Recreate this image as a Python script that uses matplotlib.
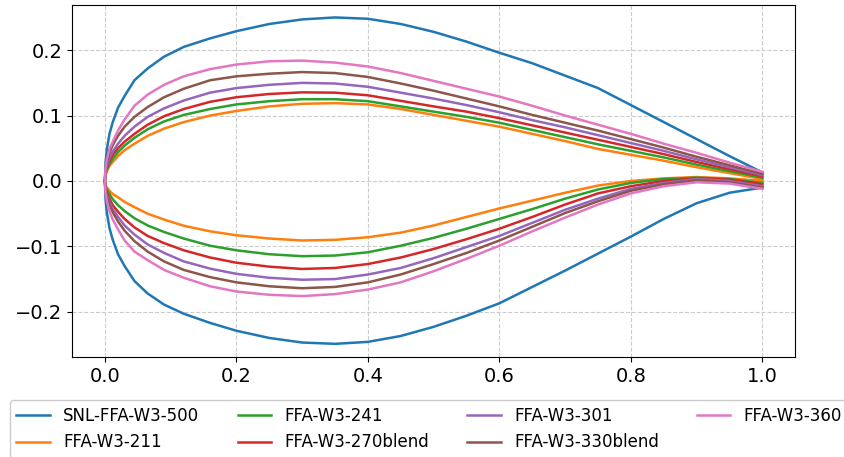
import matplotlib
matplotlib.use('Agg')
import matplotlib.pyplot as plt

# chordwise stations shared by all profiles
x_c = [0, 0.001, 0.003, 0.007, 0.012, 0.02, 0.03, 0.045, 0.065, 0.09,
       0.12, 0.16, 0.2, 0.25, 0.3, 0.35, 0.4, 0.45, 0.5, 0.55,
       0.6, 0.65, 0.7, 0.75, 0.8, 0.85, 0.9, 0.95, 1.0]

names = ['SNL-FFA-W3-500', 'FFA-W3-211', 'FFA-W3-241', 'FFA-W3-270blend',
         'FFA-W3-301', 'FFA-W3-330blend', 'FFA-W3-360']

upper_500 = [0, .028, .048, .072, .090, .112, .130, .154, .172, .190,
             .205, .218, .229, .240, .247, .250, .248, .240, .228, .213,
             .196, .180, .161, .142, .116, .090, .064, .038, .013]
lower_500 = [0, -.028, -.048, -.072, -.090, -.112, -.130, -.153, -.172, -.189,
             -.203, -.217, -.229, -.240, -.247, -.249, -.246, -.237, -.223, -.206,
             -.187, -.162, -.137, -.111, -.085, -.058, -.034, -.018, -.010]

upper_211 = [0, .009, .015, .023, .029, .038, .047, .057, .069, .080,
             .090, .100, .107, .114, .118, .119, .117, .110, .101, .092,
             .083, .072, .061, .049, .040, .031, .021, .012, .003]
lower_211 = [0, -.006, -.010, -.015, -.020, -.025, -.032, -.040, -.050, -.059,
             -.0685, -.077, -.083, -.088, -.091, -.090, -.086, -.079, -.068, -.055,
             -.042, -.030, -.018, -.007, .000, .004, .006, .004, .000]

upper_241 = [0, .010, .017, .026, .034, .044, .054, .066, .079, .091,
             .101, .110, .117, .122, .125, .125, .122, .114, .106, .098,
             .089, .078, .067, .056, .046, .036, .025, .015, .005]
lower_241 = [0, -.008, -.013, -.020, -.028, -.037, -.046, -.057, -.068, -.078,
             -.088, -.099, -.106, -.112, -.115, -.114, -.109, -.099, -.087, -.073,
             -.058, -.043, -.027, -.013, -.003, .003, .005, .003, -.003]

upper_270 = [0, .012, .020, .031, .040, .050, .060, .072, .086, .099,
             .110, .121, .128, .133, .1355, .135, .131, .1225, .114, .106,
             .096, .085, .074, .063, .052, .041, .029, .018, .007]
lower_270 = [0, -.011, -.018, -.027, -.037, -.047, -.058, -.071, -.084, -.095,
             -.106, -.117, -.125, -.131, -.1345, -.133, -.127, -.117, -.104, -.089,
             -.073, -.055, -.036, -.019, -.008, .000, .004, .002, -.005]

upper_301 = [0, .014, .023, .035, .045, .057, .069, .083, .098, .111,
             .123, .135, .142, .147, .150, .149, .144, .135, .126, .116,
             .105, .093, .082, .070, .058, .046, .033, .021, .009]
lower_301 = [0, -.013, -.022, -.032, -.043, -.055, -.068, -.082, -.097, -.110,
             -.123, -.134, -.142, -.148, -.151, -.150, -.143, -.133, -.118, -.101,
             -.084, -.064, -.044, -.027, -.012, -.003, .003, .000, -.008]

upper_330 = [0, .017, .029, .043, .055, .069, .083, .098, .113, .128,
             .141, .154, .160, .164, .1665, .165, .159, .149, .138, .126,
             .114, .101, .089, .077, .064, .051, .037, .024, .011]
lower_330 = [0, -.015, -.025, -.036, -.048, -.062, -.076, -.092, -.108, -.123,
             -.136, -.147, -.155, -.161, -.164, -.162, -.155, -.143, -.127, -.110,
             -.091, -.070, -.049, -.031, -.015, -.005, .001, -.002, -.010]

upper_360 = [0, .020, .033, .049, .060, .077, .094, .115, .132, .147,
             .160, .171, .178, .183, .184, .181, .175, .165, .153, .141,
             .129, .115, .100, .086, .072, .057, .043, .028, .014]
lower_360 = [0, -.018, -.031, -.046, -.059, -.074, -.091, -.108, -.121, -.136,
             -.148, -.161, -.169, -.174, -.176, -.173, -.166, -.155, -.138, -.119,
             -.099, -.077, -.056, -.036, -.019, -.008, -.002, -.004, -.012]

uppers = [upper_500, upper_211, upper_241, upper_270, upper_301, upper_330, upper_360]
lowers = [lower_500, lower_211, lower_241, lower_270, lower_301, lower_330, lower_360]

fig = plt.figure(figsize=(8.44, 4.57), dpi=100)
ax = fig.add_axes([0.0853, 0.219, 0.857, 0.770])

for name, up, lo in zip(names, uppers, lowers):
    xs = x_c[::-1] + x_c[1:]
    ys = up[::-1] + lo[1:]
    ax.plot(xs, ys, lw=1.8, label=name)

ax.set_xlim(-0.05, 1.05)
ax.set_ylim(-0.269, 0.269)
ax.set_xticks([0.0, 0.2, 0.4, 0.6, 0.8, 1.0])
ax.set_yticks([-0.2, -0.1, 0.0, 0.1, 0.2])
ax.tick_params(labelsize=14)
ax.grid(True, ls='--', color='0.8')
ax.legend(loc='upper center', bbox_to_anchor=(0.494, -0.1), ncol=4,
          fontsize=12, shadow=True, columnspacing=2.3)

fig.savefig('out.png', dpi=100)
